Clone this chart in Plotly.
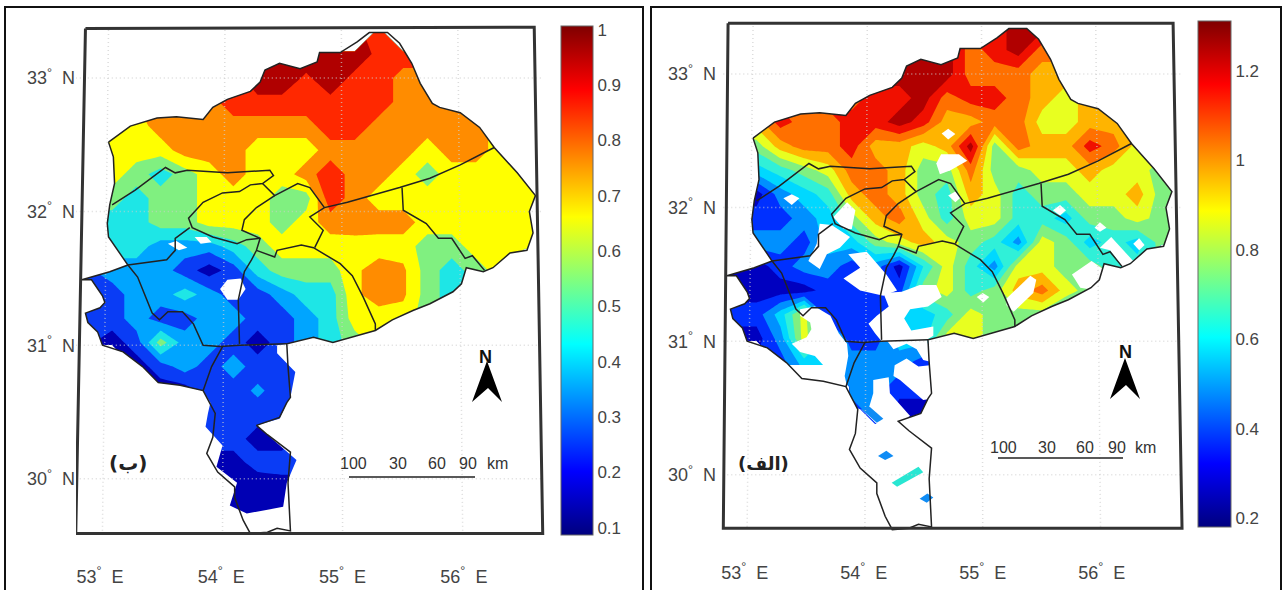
import plotly.graph_objects as go

n = None
W, H = 1283, 590

# ---------- grid axes (degrees) ----------
lons = [52.8, 53.1, 53.3, 53.5, 53.7, 53.9, 54.1, 54.3, 54.5, 54.7, 54.9, 55.1, 55.3, 55.5, 55.7, 55.9, 56.1, 56.3, 56.5, 56.7]
lats = [33.36, 33.18, 33.0, 32.82, 32.64, 32.46, 32.28, 32.10, 31.92, 31.74, 31.56, 31.38, 31.20, 31.02, 30.84, 30.66, 30.48, 30.30, 30.12, 29.94, 29.76, 29.58]

# ---------- panel (b) values ----------
z_b = [
    [n, n, n, n, n, n, n, n, n, n, n, n, .85, n, n, n, n, n, n, n],
    [n, n, n, n, n, n, n, .97, .97, .97, .97, .97, .87, .87, .87, n, n, n, n, n],
    [n, n, n, n, n, n, .85, .97, .97, .88, .97, .87, .87, .75, .75, .75, n, n, n, n],
    [n, n, n, .75, .75, .75, .87, .87, .87, .87, .87, .87, .87, .75, .75, .75, .75, n, n, n],
    [.65, .65, .65, .75, .75, .75, .75, .75, .75, .75, .87, .87, .75, .75, .75, .75, .75, .65, n, n],
    [.65, .65, .65, .65, .75, .75, .75, .65, .65, .65, .75, .75, .75, .75, .65, .75, .75, .65, .65, n],
    [.65, .65, .55, .45, .55, .65, .75, .65, .65, .75, .87, .75, .75, .65, .55, .65, .65, .65, .65, .65],
    [.55, .55, .45, .55, .55, .65, .65, .65, .55, .55, .87, .75, .65, .65, .65, .65, .65, .65, .65, .65],
    [.45, .45, .45, .55, .55, .65, .65, .65, .55, .65, .75, .75, .75, .75, .65, .65, .65, .65, .65, .65],
    [.45, .45, .45, .35, .35, .35, .45, .55, .65, .65, .65, .66, .65, .65, .55, .55, .65, .65, .65, .65],
    [.25, .35, .35, .35, .25, .15, .25, .45, .55, .55, .55, .68, .75, .72, .55, .45, .55, .65, n, n],
    [.25, .25, .35, .35, .45, .35, .25, .25, .35, .45, .45, .68, .75, .72, .55, .45, .45, n, n, n],
    [.25, .25, .35, .25, .25, .35, .35, .25, .25, .35, .45, .65, .65, .65, .55, .45, n, n, n, n],
    [.25, .15, .25, .55, .35, .35, .25, .15, .25, .35, .45, .55, .65, .65, n, n, n, n, n, n],
    [n, n, .15, .25, .35, .25, .35, .25, .25, .25, n, n, n, n, n, n, n, n, n, n],
    [n, n, n, .15, .15, .25, .25, .32, .25, .25, n, n, n, n, n, n, n, n, n, n],
    [n, n, n, n, .25, .25, .25, .25, .25, .25, n, n, n, n, n, n, n, n, n, n],
    [n, n, n, n, n, .25, .25, .15, .15, .25, n, n, n, n, n, n, n, n, n, n],
    [n, n, n, n, n, .15, .15, .25, .25, .25, n, n, n, n, n, n, n, n, n, n],
    [n, n, n, n, n, .15, .15, .12, .15, .15, n, n, n, n, n, n, n, n, n, n],
    [n, n, n, n, n, .15, .12, .12, .12, .12, n, n, n, n, n, n, n, n, n, n],
    [n, n, n, n, n, .15, .15, .15, .15, .15, n, n, n, n, n, n, n, n, n, n],
]

# ---------- panel (alef) values ----------
z_a = [
    [n, n, n, n, n, n, n, n, n, n, n, 1.15, 1.25, 1.25, n, n, n, n, n, n],
    [n, n, n, n, n, n, n, 1.25, 1.25, 1.25, 1.05, 1.15, 1.25, 1.05, 1.05, n, n, n, n, n],
    [n, n, n, n, n, 1.15, 1.25, 1.25, 1.25, 1.25, 1.05, 1.05, 1.05, .95, .95, n, n, n, n, n],
    [n, n, n, 1.05, 1.15, 1.05, 1.15, 1.15, 1.25, 1.05, 1.15, 1.15, 1.05, .95, .85, .95, .95, n, n, n],
    [.85, .95, 1.15, 1.05, 1.05, 1.15, 1.15, 1.25, 1.15, .95, .95, 1.05, 1.05, .85, .85, .95, .95, .95, n, n],
    [.65, .75, .95, 1.05, 1.05, 1.15, .95, .95, .85, .95, 1.25, .75, 1.05, .95, .95, 1.15, 1.05, .85, .85, n],
    [.55, .55, .65, .75, .85, 1.05, 1.05, .95, .75, .75, 1.05, .75, .75, .85, .85, .95, .85, .85, .75, n],
    [.25, .25, .45, .55, .65, .95, 1.05, .95, .75, .65, .95, .85, .65, .75, .75, .85, .85, .95, .75, .75],
    [.35, .35, .35, .45, .55, .75, .95, 1.05, .85, .65, .85, .85, .65, .65, .55, .75, .75, .85, .75, .75],
    [.45, .45, .45, .35, .55, .55, .75, .85, .95, .85, .75, .65, .45, .85, .75, .55, .65, .55, .75, .75],
    [.25, .25, .35, .45, .45, .35, .45, .25, .6, .85, .65, .45, .85, .85, .75, .75, .65, .65, n, n],
    [.25, .25, .25, .25, .35, .35, .35, .35, .75, .85, .65, .75, .95, 1.05, .85, .75, .75, n, n, n],
    [.35, .35, .55, .85, .35, .35, .35, .55, .55, .65, .85, .75, .75, .75, .65, .75, n, n, n, n],
    [.25, .25, .45, .85, .55, .35, .35, .55, .55, .85, .85, .75, .75, .75, n, n, n, n, n, n],
    [n, n, .35, .55, .55, .45, .45, .45, .35, .35, n, n, n, n, n, n, n, n, n, n],
    [n, n, n, n, n, .45, .45, .35, .35, .35, n, n, n, n, n, n, n, n, n, n],
    [n, n, n, n, n, .35, .45, .25, .25, .25, n, n, n, n, n, n, n, n, n, n],
    [n, n, n, n, n, .35, .35, .25, .25, .25, n, n, n, n, n, n, n, n, n, n],
]

jet = [[0, "#00007f"], [0.125, "#0000ff"], [0.375, "#00ffff"], [0.625, "#ffff00"], [0.875, "#ff0000"], [1, "#7f0000"]]
# colours of the filled classes, lowest class first
bands_b = ["#0000b4", "#0a3cf5", "#00a5ff", "#1ee6e6", "#80f080", "#ffff00", "#ff8c00", "#ff2800", "#b00000"]
bands_a = ["#0000c0", "#0030ff", "#0090ff", "#00d8ff", "#30f0d8", "#80f080", "#e8ff20", "#ffb400", "#ff7000", "#f01000", "#b00000"]

# ---------- region outline (lon, lat) ----------
north_lon = [53.07, 53.25, 53.47, 53.63, 53.85, 53.93, 54.05, 54.24, 54.32, 54.36, 54.48, 54.65, 54.79, 54.81, 54.98, 55.12, 55.22, 55.37, 55.47, 55.57, 55.64, 55.74, 55.80, 55.97, 56.13, 56.25, 56.44, 56.59, 56.54, 56.57, 56.52, 56.38, 56.24, 56.16, 56.02, 55.98, 55.91, 55.72, 55.58, 55.41, 55.27, 55.04, 54.92, 54.76, 54.54]
north_lat = [32.52, 32.64, 32.70, 32.71, 32.69, 32.78, 32.84, 32.90, 32.97, 33.06, 33.11, 33.07, 33.12, 33.19, 33.19, 33.27, 33.34, 33.34, 33.26, 33.11, 32.96, 32.81, 32.78, 32.74, 32.63, 32.48, 32.29, 32.12, 32.00, 31.84, 31.71, 31.69, 31.58, 31.55, 31.58, 31.46, 31.40, 31.31, 31.26, 31.19, 31.11, 31.05, 31.02, 31.06, 31.01]
south_lon = [54.55, 54.57, 54.54, 54.48, 54.29, 54.38, 54.57, 54.55, 54.57, 54.46, 54.38, 54.24, 54.18, 54.11, 54.11, 53.97, 53.88, 53.93, 53.95, 53.89]
south_lat = [30.84, 30.61, 30.57, 30.46, 30.40, 30.33, 30.20, 29.97, 29.61, 29.63, 29.60, 29.59, 29.69, 29.86, 29.94, 30.05, 30.19, 30.31, 30.49, 30.59]
west_lon = [53.85, 53.66, 53.48, 53.35, 53.19, 53.02, 52.98, 52.90, 52.88, 53.00, 53.04, 53.02, 52.93, 52.85, 53.08, 53.23, 53.15, 53.07, 53.06, 53.08, 53.12, 53.11, 53.07]
west_lat = [30.66, 30.70, 30.72, 30.84, 30.95, 31.00, 31.10, 31.17, 31.24, 31.28, 31.32, 31.37, 31.49, 31.49, 31.55, 31.60, 31.71, 31.81, 31.91, 32.05, 32.21, 32.41, 32.52]
outline_lon = north_lon + south_lon + west_lon
outline_lat = north_lat + south_lat + west_lat

# southern limit of the coloured area in panel (b)
cover_b_lon = [54.46, 54.46, 54.61, 54.57, 54.54, 54.48, 54.29, 54.62, 54.54, 54.51, 54.21, 54.07, 54.13, 53.96, 54.01, 53.87, 53.89, 53.91]
cover_b_lat = [31.00, 30.94, 30.80, 30.61, 30.57, 30.45, 30.40, 30.14, 29.97, 29.79, 29.74, 29.80, 29.97, 30.09, 30.25, 30.39, 30.49, 30.57]

# ---------- internal borders ----------
borders = [
    ([53.10, 53.29, 53.54, 53.62, 53.72, 54.05, 54.40, 54.43, 54.34, 54.24, 54.15, 54.01, 53.85, 53.73, 53.76, 53.93, 54.13, 54.21, 54.32],
     [32.05, 32.16, 32.33, 32.29, 32.31, 32.29, 32.31, 32.27, 32.21, 32.20, 32.15, 32.14, 32.07, 31.95, 31.88, 31.81, 31.76, 31.79, 31.80]),
    ([54.34, 54.44, 54.63, 54.73, 54.85], [32.21, 32.12, 32.21, 32.18, 32.03]),
    ([54.44, 54.29, 54.19, 54.17, 54.32, 54.29, 54.25, 54.19, 54.14, 54.15], [32.12, 32.03, 31.94, 31.86, 31.80, 31.71, 31.64, 31.55, 31.34, 31.01]),
    ([54.29, 54.44, 54.46, 54.66, 54.76, 54.98, 55.08, 55.17, 55.27, 55.27], [31.71, 31.66, 31.71, 31.75, 31.73, 31.61, 31.52, 31.36, 31.16, 31.11]),
    ([56.25, 55.97, 55.72, 55.47, 55.04, 54.85, 54.73, 54.84, 54.77], [32.48, 32.35, 32.25, 32.18, 32.07, 32.03, 31.96, 31.86, 31.73]),
    ([55.49, 55.50, 55.69, 55.79, 55.90, 56.01, 56.07, 56.17], [32.18, 32.01, 31.91, 31.80, 31.80, 31.65, 31.67, 31.56]),
    ([53.23, 53.55, 53.62, 53.62, 53.74], [31.60, 31.64, 31.71, 31.80, 31.88]),
    ([53.23, 53.31, 53.43, 53.49, 53.56, 53.68, 53.77, 53.85, 53.99, 54.15, 54.54], [31.60, 31.51, 31.24, 31.19, 31.25, 31.25, 31.16, 31.00, 30.99, 31.00, 31.01]),
    ([54.01, 53.92, 53.85], [30.99, 30.84, 30.66]),
]

# ---------- no-data gaps ----------
gaps_b = [
    ([53.99, 54.05, 54.16, 54.20, 54.14, 54.05], [31.42, 31.49, 31.50, 31.42, 31.34, 31.34]),
    ([53.78, 53.88, 53.92, 53.83], [31.81, 31.81, 31.77, 31.76]),
    ([53.56, 53.63, 53.72, 53.65], [31.76, 31.78, 31.73, 31.71]),
]
gaps_a = [
    ([54.655, 54.71, 54.77, 54.71], [32.554, 32.59, 32.55, 32.51]),
    ([54.61, 54.65, 54.80, 54.87, 54.73, 54.64], [32.33, 32.40, 32.40, 32.35, 32.28, 32.25]),
    ([53.325, 53.395, 53.46, 53.395], [32.07, 32.10, 32.07, 32.02]),
    ([54.71, 54.77, 54.82, 54.77], [32.09, 32.12, 32.08, 32.04]),
    ([53.745, 53.86, 53.93, 53.90, 53.83], [31.93, 32.04, 31.98, 31.84, 31.84]),
    ([55.59, 55.65, 55.70, 55.65], [31.98, 32.02, 31.98, 31.94]),
    ([55.94, 55.985, 56.04, 55.985], [31.85, 31.89, 31.85, 31.82]),
    ([56.265, 56.315, 56.36, 56.315], [31.73, 31.77, 31.72, 31.68]),
    ([55.985, 56.08, 56.265, 56.18, 56.07], [31.70, 31.78, 31.60, 31.55, 31.68]),
    ([55.75, 55.915, 56.01, 55.96, 55.82], [31.50, 31.60, 31.54, 31.38, 31.40]),
    ([53.535, 53.605, 53.63, 53.73, 53.885, 53.80, 53.69, 53.63], [31.60, 31.73, 31.88, 31.87, 31.78, 31.70, 31.65, 31.54]),
    ([53.83, 53.97, 53.87, 54.025, 54.19, 54.28, 54.165, 53.97], [31.47, 31.55, 31.65, 31.67, 31.50, 31.38, 31.34, 31.38]),
    ([54.165, 54.32, 54.47, 54.61, 54.655, 54.54, 54.39, 54.34, 54.40, 54.585, 54.585, 54.53, 54.15, 54.095, 54.04, 54.11, 54.21],
     [31.36, 31.37, 31.42, 31.42, 31.33, 31.26, 31.24, 31.17, 31.08, 31.11, 31.04, 31.01, 31.00, 31.06, 31.13, 31.19, 31.26]),
    ([53.465, 53.59, 53.72, 53.79, 53.86, 53.87, 53.84, 53.86, 53.66, 53.66, 53.59, 53.465, 53.395, 53.52, 53.56, 53.55, 53.465],
     [31.24, 31.26, 31.19, 31.06, 30.98, 30.89, 30.74, 30.66, 30.71, 30.82, 30.89, 30.92, 30.98, 31.03, 31.09, 31.14, 31.19]),
    ([54.26, 54.36, 54.46, 54.555, 54.57, 54.50, 54.305, 54.25], [30.82, 30.87, 30.81, 30.82, 30.57, 30.56, 30.71, 30.74]),
    ([54.08, 54.21, 54.22, 54.39, 54.35, 54.19, 54.11, 53.98, 54.04, 54.08], [30.71, 30.73, 30.61, 30.44, 30.42, 30.38, 30.38, 30.49, 30.49, 30.61]),
    ([53.91, 53.97, 54.095, 54.36, 54.585, 54.585, 54.22, 53.855], [30.51, 30.49, 30.38, 30.43, 30.44, 29.58, 29.58, 30.17]),
    ([54.19, 54.53, 54.585, 54.50, 54.445, 54.36, 54.25], [31.01, 31.01, 30.84, 30.86, 30.94, 30.98, 30.94]),
    ([54.95, 55.0, 55.055, 55.005], [31.33, 31.36, 31.33, 31.29]),
    ([55.20, 55.40, 55.45, 55.425, 55.26, 55.20], [31.32, 31.49, 31.46, 31.36, 31.22, 31.27]),
]
# isolated cells in the south of panel (alef)
cells_a = [
    ([54.12, 54.19, 54.25, 54.18], [30.14, 30.18, 30.14, 30.11], "#0f8cf5"),
    ([54.235, 54.46, 54.50, 54.28], [29.94, 30.06, 30.02, 29.91], "#28e6d2"),
    ([54.47, 54.535, 54.585, 54.53], [29.82, 29.86, 29.83, 29.79], "#0f8cf5"),
    ([53.98, 54.05, 54.165, 54.11], [30.49, 30.51, 30.42, 30.39], "#0f8cf5"),
]

# ---------- frames, graticule, ticks ----------
frame_b_lon = [52.88, 56.58, 56.65, 52.80, 52.88]
frame_b_lat = [33.37, 33.38, 29.59, 29.59, 33.37]
frame_a_lon = [52.86, 56.60, 56.675, 52.82, 52.86]
frame_a_lat = [33.38, 33.38, 29.60, 29.60, 33.38]
meridians = [([53.07, 53.02], [33.36, 29.61]), ([54.03, 54.01], [33.36, 29.61]), ([54.99, 55.0], [33.36, 29.61]), ([55.95, 55.99], [33.36, 29.61])]
parallels = [33.0, 32.0, 31.0, 30.0]
lon_ticks = [53, 54, 55, 56]
lon_labels = ["53<sup>°</sup>&nbsp; E", "54<sup>°</sup>&nbsp; E", "55<sup>°</sup>&nbsp; E", "56<sup>°</sup>&nbsp; E"]
lat_ticks = [33, 32, 31, 30]
lat_labels = ["33<sup>°</sup>&nbsp; N", "32<sup>°</sup>&nbsp; N", "31<sup>°</sup>&nbsp; N", "30<sup>°</sup>&nbsp; N"]
cb_b_ticks = [1, .9, .8, .7, .6, .5, .4, .3, .2, .1]
cb_b_labels = ["1", "0.9", "0.8", "0.7", "0.6", "0.5", "0.4", "0.3", "0.2", "0.1"]
cb_a_ticks = [1.2, 1, .8, .6, .4, .2]
cb_a_labels = ["1.2", "1", "0.8", "0.6", "0.4", "0.2"]

FONT = "Liberation Sans, Arial, sans-serif"
TXT = "#444444"
GRID = "rgba(205,205,205,.7)"
px = lambda x: x / W
py = lambda y: 1 - y / H

fig = go.Figure()


def band_scale(bands, levels):
    # fill colour of class k is read at (k + 1) / levels on the contour colour scale
    stops = [[0, bands[0]]]
    for k, c in enumerate(bands):
        stops.append([(k + 1) / levels, c])
    stops.append([1, bands[-1]])
    return stops


def panel(xa, ya, rng_x, rng_y, z, zr, bands, cover_lon, cover_lat, gaps, cells, frame_lon, frame_lat, cb):
    lat_s = lats[:len(z)]
    fig.add_trace(go.Contour(x=lons, y=lat_s, z=z, xaxis=xa, yaxis=ya, colorscale=band_scale(bands, len(bands) + 1), zmin=zr[0], zmax=zr[1],
                             contours=dict(coloring="fill", start=zr[2], end=zr[3], size=.1, showlines=False),
                             line=dict(width=0, smoothing=0), connectgaps=False, showscale=False, hoverinfo="skip"))
    mx = [rng_x[0], rng_x[0], rng_x[1], rng_x[1], rng_x[0], n] + cover_lon
    my = [rng_y[1], rng_y[0], rng_y[0], rng_y[1], rng_y[1], n] + cover_lat
    fig.add_trace(go.Scatter(x=mx, y=my, xaxis=xa, yaxis=ya, mode="lines", fill="toself", fillcolor="white",
                             line=dict(width=0), hoverinfo="skip"))
    for gx, gy in gaps:
        fig.add_trace(go.Scatter(x=gx, y=gy, xaxis=xa, yaxis=ya, mode="lines", fill="toself", fillcolor="white",
                                 line=dict(width=0), hoverinfo="skip"))
    for cx, cy, col in cells:
        fig.add_trace(go.Scatter(x=cx, y=cy, xaxis=xa, yaxis=ya, mode="lines", fill="toself", fillcolor=col,
                                 line=dict(width=0), hoverinfo="skip"))
    for mxs, mys in meridians:
        fig.add_trace(go.Scatter(x=mxs, y=mys, xaxis=xa, yaxis=ya, mode="lines",
                                 line=dict(color=GRID, width=1.5, dash="1px,3px"), hoverinfo="skip"))
    for p in parallels:
        fig.add_trace(go.Scatter(x=[frame_lon[3], frame_lon[2]], y=[p, p], xaxis=xa, yaxis=ya, mode="lines",
                                 line=dict(color=GRID, width=1.5, dash="1px,3px"), hoverinfo="skip"))
    fig.add_trace(go.Scatter(x=outline_lon, y=outline_lat, xaxis=xa, yaxis=ya, mode="lines",
                             line=dict(color="#222222", width=1.5), hoverinfo="skip"))
    for bx, by in borders:
        fig.add_trace(go.Scatter(x=bx, y=by, xaxis=xa, yaxis=ya, mode="lines",
                                 line=dict(color="#222222", width=1.5), hoverinfo="skip"))
    fig.add_trace(go.Scatter(x=frame_lon, y=frame_lat, xaxis=xa, yaxis=ya, mode="lines", cliponaxis=False,
                             line=dict(color="#333333", width=3), hoverinfo="skip"))
    fig.add_trace(go.Scatter(x=[n], y=[n], xaxis=xa, yaxis=ya, mode="markers", hoverinfo="skip",
                             marker=dict(color=[zr[0], zr[1]], colorscale=jet, cmin=zr[0], cmax=zr[1], showscale=True,
                                         colorbar=dict(thicknessmode="pixels", thickness=cb["w"], lenmode="pixels", len=cb["h"],
                                                       x=px(cb["x"]), xanchor="left", y=py(cb["y"]), yanchor="top",
                                                       xpad=0, ypad=0, outlinewidth=1, outlinecolor="#666666",
                                                       ticks="", tickvals=cb["t"], ticktext=cb["l"],
                                                       tickfont=dict(family=FONT, size=17, color=TXT)))))


cover_b_ring_lon = north_lon + cover_b_lon + west_lon
cover_b_ring_lat = north_lat + cover_b_lat + west_lat

panel("x", "y", [52.802, 56.710], [29.542, 33.434], z_b, (.087, 1.007, .1, 1.0), bands_b, cover_b_ring_lon, cover_b_ring_lat,
      gaps_b, [], frame_b_lon, frame_b_lat,
      dict(w=32, h=509, x=561, y=26, t=cb_b_ticks, l=cb_b_labels))
panel("x2", "y2", [52.767, 56.742], [29.542, 33.434], z_a, (.18, 1.312, .2, 1.3), bands_a, outline_lon, outline_lat,
      gaps_a, cells_a, frame_a_lon, frame_a_lat,
      dict(w=33, h=506, x=1198, y=21, t=cb_a_ticks, l=cb_a_labels))


def ax(domain, rng, vals, labels, standoff, anchor):
    return dict(domain=domain, range=rng, tickmode="array", tickvals=vals, ticktext=labels, ticks="", showgrid=False,
                zeroline=False, showline=False, anchor=anchor, ticklabelstandoff=standoff,
                tickfont=dict(family=FONT, size=18, color=TXT))


shapes = []
shapes.append(dict(type="rect", xref="paper", yref="paper", x0=px(5), x1=px(643), y0=py(7), y1=py(600), line=dict(color="#111111", width=2)))
shapes.append(dict(type="rect", xref="paper", yref="paper", x0=px(651), x1=px(1281), y0=py(7), y1=py(600), line=dict(color="#111111", width=2)))
for dx, dy in [(0, 0), (638, -3)]:
    pts = [(487, 361), (502, 402), (488, 388), (472, 402)]
    path = "M " + " L ".join(f"{px(a + dx):.5f} {py(b + dy):.5f}" for a, b in pts) + " Z"
    shapes.append(dict(type="path", xref="paper", yref="paper", path=path, fillcolor="#000000", line=dict(width=0)))
shapes.append(dict(type="line", xref="paper", yref="paper", x0=px(349), x1=px(475), y0=py(477), y1=py(477), line=dict(color="#222222", width=1.3)))
shapes.append(dict(type="line", xref="paper", yref="paper", x0=px(998), x1=px(1123), y0=py(458), y1=py(458), line=dict(color="#222222", width=1.3)))

annos = []


def text(x, y, s, size=16, color="#333333", family=FONT, bold=False):
    annos.append(dict(xref="paper", yref="paper", x=px(x), y=py(y), text=f"<b>{s}</b>" if bold else s, showarrow=False,
                      xanchor="center", yanchor="middle", font=dict(family=family, size=size, color=color)))


for x, s in [(353, "100"), (398, "30"), (437, "60"), (468, "90"), (497, "km")]:
    text(x, 463, s)
for x, s in [(1003, "100"), (1047, "30"), (1085, "60"), (1117, "90"), (1145, "km")]:
    text(x, 447, s)
text(485, 357, "N", size=18, color="#111111", bold=True)
text(1125, 352, "N", size=18, color="#111111", bold=True)
text(128, 463, "(ب)", size=20, color="#222222", family="DejaVu Sans", bold=True)
text(763, 463, "(الف)", size=18, color="#222222", family="DejaVu Sans", bold=True)

fig.update_layout(
    width=W, height=H, margin=dict(l=0, r=0, t=0, b=0, autoexpand=False), paper_bgcolor="white", plot_bgcolor="white",
    showlegend=False, shapes=shapes, annotations=annos,
    xaxis=ax([px(76), px(550)], [52.802, 56.710], lon_ticks, lon_labels, 24, "y"),
    yaxis=ax([py(540), py(20)], [29.542, 33.434], lat_ticks, lat_labels, 0, "x"),
    xaxis2=ax([px(717), px(1190)], [52.767, 56.742], lon_ticks, lon_labels, 24, "y2"),
    yaxis2=ax([py(536), py(16)], [29.542, 33.434], lat_ticks, lat_labels, 0, "x2"),
)
fig.write_html("out.html", config={"displayModeBar": False}, post_script="document.body.style.margin='0';")
